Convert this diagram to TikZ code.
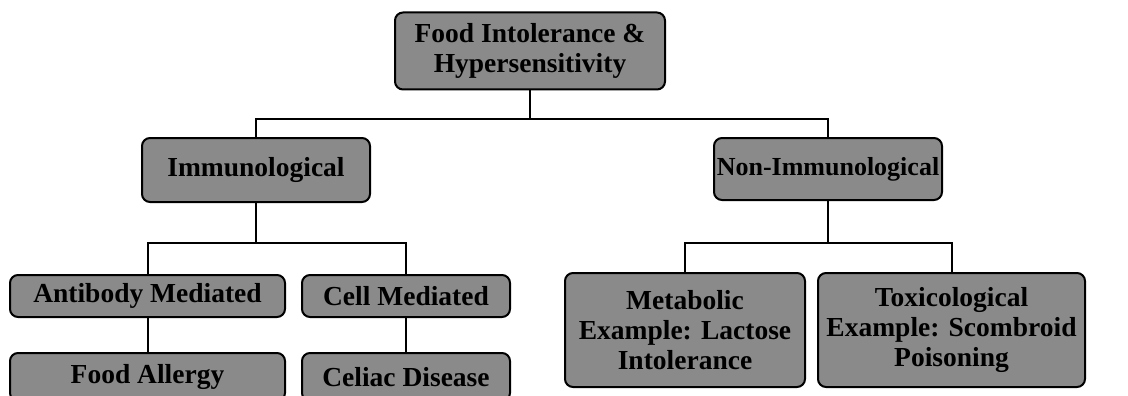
\documentclass[tikz,border=0pt]{standalone}
\usepackage{fontspec}
\setmainfont{Liberation Serif}
\begin{document}
\begin{tikzpicture}[x=1pt,y=-1pt,
  box/.style={draw=black, line width=2pt, rounded corners=8pt, fill=boxgray,
    text=black, font=\fontsize{27.5}{30}\selectfont\bfseries, align=center,
    inner sep=0pt, anchor=center},
  link/.style={draw=black, line width=2pt}]
\definecolor{boxgray}{HTML}{8A8A8A}
\useasboundingbox (0,0) rectangle (1128,396);
\clip (0,0) rectangle (1128,396);
\node[box, minimum width=270pt, minimum height=77pt] (top) at (530,51) {Food Intolerance \&\\Hypersensitivity};
\node[box, minimum width=228pt, minimum height=64pt] (imm) at (256,170) {Immunological};
\node[box, minimum width=228pt, minimum height=62pt, font=\fontsize{26}{30}\selectfont\bfseries] (non) at (828,169) {Non-Immunological};
\node[box, minimum width=275pt, minimum height=42pt] (anti) at (147.5,296) {Antibody Mediated};
\node[box, minimum width=208pt, minimum height=42pt] (cell) at (406,296) {Cell Mediated};
\node[box, minimum width=275pt, minimum height=48pt] (food) at (147.5,377) {Food Allergy};
\node[box, minimum width=208pt, minimum height=48pt] (celiac) at (406,377) {Celiac Disease};
\node[box, minimum width=240pt, minimum height=114pt] (meta) at (685,330) {Metabolic\\Example: Lactose\\Intolerance};
\node[box, minimum width=267pt, minimum height=114pt] (tox) at (951.5,330) {Toxicological\\Example: Scombroid\\Poisoning};
\coordinate (j1) at (530,119);
\coordinate (j2) at (256,243);
\coordinate (j3) at (828,243);
\draw[link] (top.south) -- (j1);
\draw[link] (imm.north) |- (j1) -| (non.north);
\draw[link] (imm.south) -- (j2);
\draw[link] (anti.north) |- (j2) -| (cell.north);
\draw[link] (non.south) -- (j3);
\draw[link] (meta.north) |- (j3) -| (tox.north);
\draw[link] (anti.south) -- (food.north);
\draw[link] (cell.south) -- (celiac.north);
\end{tikzpicture}
\end{document}
